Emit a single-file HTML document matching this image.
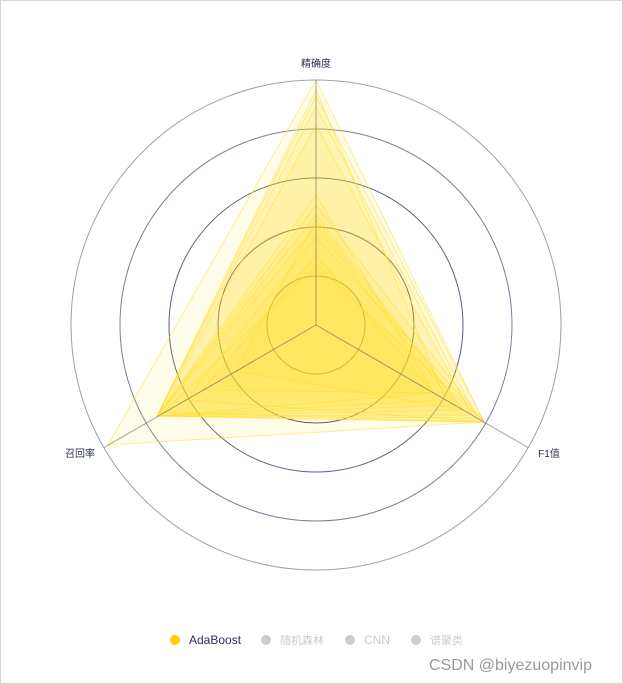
<!DOCTYPE html>
<html><head><meta charset="utf-8"><style>
html,body{margin:0;padding:0;background:#fff}
body{width:623px;height:684px;overflow:hidden;position:relative;font-family:"Liberation Sans","Noto Sans CJK SC",sans-serif}
.frame{position:absolute;left:0;top:0;width:621px;height:682px;border:1px solid #d6d6d6}
</style></head><body>
<div class="frame"></div>
<svg width="623" height="684" style="position:absolute;left:0;top:0">
<g fill="none">
<circle cx="316" cy="325" r="245" stroke="#9aa0b4" stroke-width="1"/>
<circle cx="316" cy="325" r="196" stroke="#7a8099" stroke-width="1"/>
<circle cx="316" cy="325" r="147" stroke="#5a6080" stroke-width="1"/>
<circle cx="316" cy="325" r="98" stroke="#555" stroke-width="1"/>
<circle cx="316" cy="325" r="49" stroke="#555" stroke-width="1"/>
</g>
<g fill="#ffe033" fill-opacity="0.1" stroke="#ffe033" stroke-opacity="0.55" stroke-width="1">
<polygon points="316,80 484,422 108,445"/>
<polygon points="316,96 484,422 157,416"/>
<polygon points="316,106 477,418 157,416"/>
<polygon points="316,205 484,422 157,416"/>
<polygon points="316,215 463,410 157,416"/>
<polygon points="316,226 455,405 157,416"/>
<polygon points="316,237 484,422 186,400"/>
<polygon points="316,255 434,393 203,390"/>
<polygon points="316,195 434,393 157,416"/>
<polygon points="316,220 463,410 236,371"/>
<polygon points="316,125 472,415 157,416"/>
<polygon points="316,265 484,422 164,412"/>
<polygon points="316,90 446,400 157,416"/>
</g>
<g stroke="#666" stroke-opacity="0.6" stroke-width="1">
<line x1="316" y1="325" x2="316" y2="80"/>
<line x1="316" y1="325" x2="528" y2="447.5"/>
<line x1="316" y1="325" x2="104" y2="447.5"/>
</g>
<g font-size="10" fill="#2a3050" text-anchor="middle">
<text x="316" y="67">精确度</text>
<text x="549" y="457">F1值</text>
<text x="80" y="457">召回率</text>
</g>
<circle cx="175" cy="640" r="5" fill="#f5d100"/>
<text x="189" y="644" font-size="12" fill="#2a3050">AdaBoost</text>
<circle cx="266" cy="640" r="5" fill="#ccc"/>
<text x="280" y="644" font-size="11" fill="#ccc">随机森林</text>
<circle cx="350" cy="640" r="5" fill="#ccc"/>
<text x="364" y="644" font-size="12" fill="#ccc">CNN</text>
<circle cx="416" cy="640" r="5" fill="#ccc"/>
<text x="430" y="644" font-size="11" fill="#ccc">谱聚类</text>
<text x="429" y="670" font-size="16" fill="#999">CSDN @biyezuopinvip</text>
</svg>
</body></html>
